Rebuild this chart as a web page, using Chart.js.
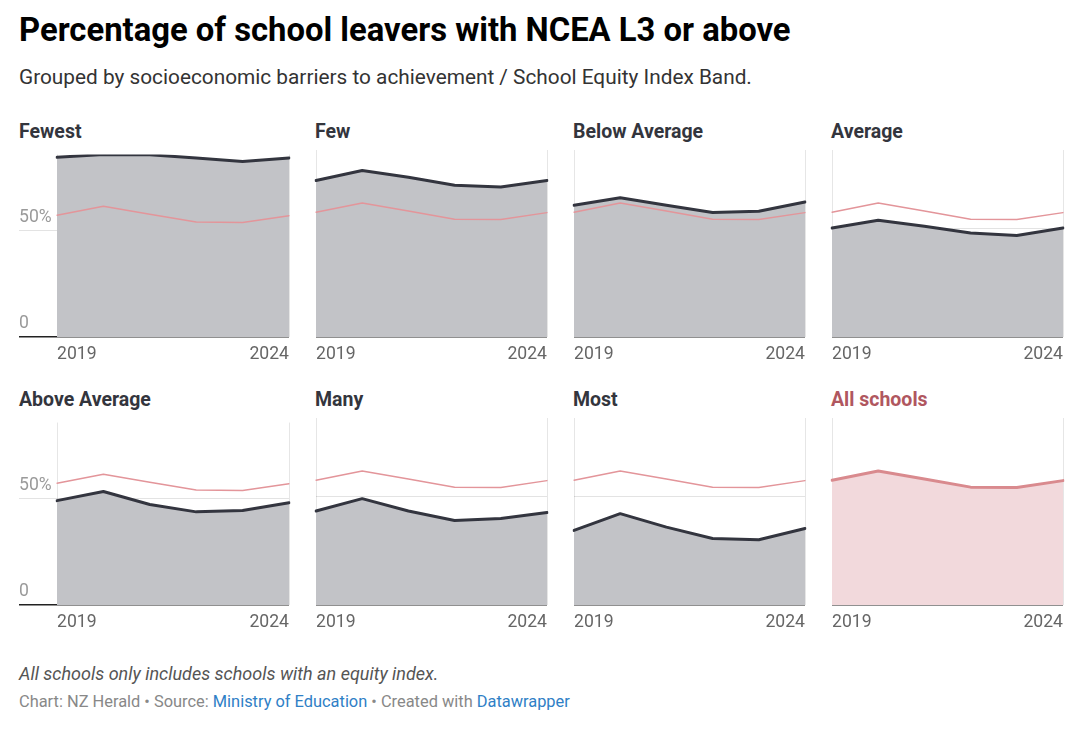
<!DOCTYPE html>
<html>
<head>
<meta charset="utf-8">
<script src="https://cdn.jsdelivr.net/npm/chart.js@4"></script>
<style>
  body { margin: 0; background: #fff; font-family: Roboto, "Noto Sans", sans-serif; }
  #wrap { position: relative; width: 1080px; height: 729px; overflow: hidden; }
  .abs { position: absolute; white-space: nowrap; }
  #title { left: 19px; top: 11px; font-size: 32.8px; font-weight: 700; color: #000; line-height: 38px; }
  #subtitle { left: 19px; top: 64px; font-size: 20.8px; color: #333; line-height: 26px; }
  .ptitle { font-size: 19.5px; font-weight: 700; color: #33353d; line-height: 22px; }
  #note { left: 19px; top: 663px; font-size: 18px; font-style: italic; color: #555; line-height: 22px; }
  #source { left: 19px; top: 692px; font-size: 16.4px; color: #888; line-height: 20px; }
  #source a { color: #2f80c6; text-decoration: none; }
  canvas { position: absolute; }
</style>
</head>
<body>
<div id="wrap">
  <div id="title" class="abs">Percentage of school leavers with NCEA L3 or above</div>
  <div id="subtitle" class="abs">Grouped by socioeconomic barriers to achievement / School Equity Index Band.</div>
  <div id="note" class="abs">All schools only includes schools with an equity index.</div>
  <div id="source" class="abs">Chart: NZ Herald • Source: <a>Ministry of Education</a> • Created with <a>Datawrapper</a></div>
</div>
<script>
// data
const years = ["2019", "2020", "2021", "2022", "2023", "2024"];
const bandNames = ["Fewest", "Few", "Below Average", "Average", "Above Average", "Many", "Most", "All schools"];
const fewest = [84.7, 86.0, 85.9, 84.4, 82.7, 84.4];
const few = [72.0, 76.6, 73.5, 69.8, 69.0, 72.0];
const belowAverage = [60.6, 64.0, 60.6, 57.3, 57.8, 62.1];
const average = [50.1, 53.7, 50.9, 47.8, 46.7, 50.1];
const aboveAverage = [49.2, 53.5, 47.4, 43.9, 44.5, 48.2];
const many = [43.2, 48.9, 43.2, 38.9, 39.8, 42.5];
const most = [34.3, 42.0, 35.8, 30.6, 30.0, 35.2];
const allSchools = [57.4, 61.6, 57.9, 54.2, 54.0, 57.2];
const yTicks = [0, 50];
const yTickLabels = ["0", "50%"];

const bandValues = [fewest, few, belowAverage, average, aboveAverage, many, most, allSchools];

// layout
const colLeft = [57, 315, 573, 831];
const rowTop = [150, 418];
const plotW = 233;
const plotH = 187;
const yAxisW = 38;
const xAxisH = 30;

const wrap = document.getElementById("wrap");

bandValues.forEach((values, i) => {
  const col = i % 4;
  const row = Math.floor(i / 4);
  const isAll = i === bandValues.length - 1;
  const showY = col === 0;

  // panel title
  const t = document.createElement("div");
  t.className = "abs ptitle";
  t.textContent = bandNames[i];
  t.style.left = (showY ? colLeft[col] - yAxisW : colLeft[col]) + "px";
  t.style.top = (rowTop[row] - 29) + "px";
  if (isAll) t.style.color = "#b0575f";
  wrap.appendChild(t);

  const padL = showY ? 0 : 6;
  const padT = 6, padR = 6, padB = 2;
  const left = colLeft[col] - (showY ? yAxisW : padL);
  const top = rowTop[row] - padT;
  const w = (colLeft[col] - left) + plotW + padR;
  const h = padT + plotH + xAxisH + padB;

  const canvas = document.createElement("canvas");
  canvas.width = w;
  canvas.height = h;
  canvas.style.left = left + "px";
  canvas.style.top = top + "px";
  canvas.style.width = w + "px";
  canvas.style.height = h + "px";
  wrap.appendChild(canvas);

  let datasets;
  if (isAll) {
    datasets = [{
      data: values,
      borderColor: "#d98a8e",
      borderWidth: 3,
      backgroundColor: "#f2d9dc",
      fill: "origin",
    }];
  } else {
    datasets = [
      {
        data: values,
        borderColor: "#33353f",
        borderWidth: 3,
        backgroundColor: "#c2c3c7",
        fill: "origin",
      },
      {
        data: allSchools,
        borderColor: "#e3959a",
        borderWidth: 1.5,
        fill: false,
      },
    ];
  }

  new Chart(canvas, {
    type: "line",
    data: { labels: years, datasets: datasets },
    options: {
      responsive: false,
      animation: false,
      layout: { padding: { left: padL, top: padT, right: padR, bottom: padB } },
      elements: {
        point: { radius: 0 },
        line: { tension: 0, borderJoinStyle: "round", borderCapStyle: "round" },
      },
      plugins: {
        legend: { display: false },
        tooltip: { enabled: false },
        filler: { drawTime: "beforeDatasetsDraw" },
      },
      scales: {
        x: {
          offset: false,
          border: { display: false },
          grid: {
            drawTicks: false,
            color: (ctx) => (ctx.index === 0 || ctx.index === years.length - 1 ? "#e6e6e6" : "rgba(0,0,0,0)"),
          },
          ticks: {
            autoSkip: false,
            maxRotation: 0,
            align: "inner",
            padding: 7,
            color: "#666",
            font: { family: "Roboto", size: 17.6 },
            callback: (v, idx) => (idx === 0 || idx === years.length - 1 ? years[idx] : ""),
          },
          afterFit: (scale) => { scale.height = xAxisH; },
        },
        y: {
          min: 0,
          max: 86,
          z: 1,
          border: { display: false },
          afterBuildTicks: (scale) => { scale.ticks = yTicks.map((v) => ({ value: v })); },
          grid: {
            drawTicks: showY,
            tickLength: yAxisW,
            color: (ctx) => (ctx.tick && ctx.tick.value === 0 ? "#222" : "rgba(0,0,0,0.11)"),
            lineWidth: (ctx) => (ctx.tick && ctx.tick.value === 0 ? 1.6 : 1),
          },
          ticks: {
            display: showY,
            padding: 0,
            crossAlign: "far",
            labelOffset: -13,
            color: "#9a9a9a",
            font: { family: "Roboto", size: 17.6 },
            callback: (v) => yTickLabels[yTicks.indexOf(v)],
          },
          afterFit: (scale) => { scale.width = showY ? yAxisW : 0; },
        },
      },
    },
  });
});
</script>
</body>
</html>
